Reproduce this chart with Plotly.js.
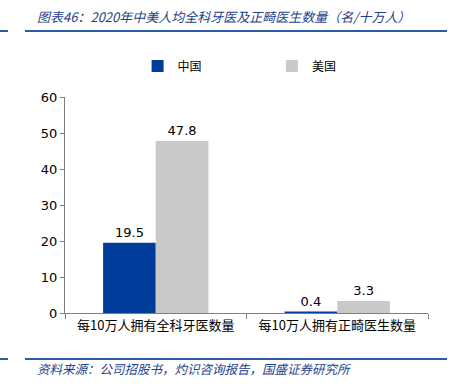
<!DOCTYPE html>
<html><head><meta charset="utf-8">
<script src="https://cdn.plot.ly/plotly-3.0.1.min.js"></script>
<style>html,body{margin:0;padding:0;background:#fff;}#chart{width:455px;height:391px;}</style>
</head><body><div id="chart"></div>
<script>
const categories = ["每10万人拥有全科牙医数量", "每10万人拥有正畸医生数量"];
const seriesNames = ["中国", "美国"];
const chinaValues = [19.5, 0.4];
const usValues = [47.8, 3.3];
const yTicks = [0, 10, 20, 30, 40, 50, 60];

const cjk = '"Noto Sans CJK SC", "Noto Sans", sans-serif';
const traces = [
  {type:'bar', name:seriesNames[0], legend:'legend', x:categories, y:chinaValues, marker:{color:'#003C9A'},
   text:chinaValues.map(v=>v.toFixed(1)), textposition:'outside', cliponaxis:false,
   textfont:{family:'Tahoma, "DejaVu Sans", sans-serif', size:13, color:'#000'}},
  {type:'bar', name:seriesNames[1], legend:'legend2', x:categories, y:usValues, marker:{color:'#C9C9C9'},
   text:usValues.map(v=>v.toFixed(1)), textposition:'outside', cliponaxis:false,
   textfont:{family:'Tahoma, "DejaVu Sans", sans-serif', size:13, color:'#000'}}
];
const legFont = {family:cjk, size:12, color:'#000'};
const layout = {
  width:455, height:391,
  margin:{l:65, r:27, t:97, b:78},
  paper_bgcolor:'#fff', plot_bgcolor:'#fff',
  barmode:'group', bargap:0.42, bargroupgap:0,
  showlegend:true,
  legend:{orientation:'h', x:0.2, xanchor:'left', y:1.1435, yanchor:'middle', font:legFont, bgcolor:'rgba(0,0,0,0)'},
  legend2:{orientation:'h', x:0.57, xanchor:'left', y:1.1435, yanchor:'middle', font:legFont, bgcolor:'rgba(0,0,0,0)'},
  xaxis:{type:'category', showline:true, linecolor:'#7f7f7f', linewidth:1,
    ticks:'outside', tickson:'boundaries', ticklen:5, tickcolor:'#7f7f7f',
    tickfont:{family:cjk, size:13, color:'#000'}, showgrid:false, zeroline:false},
  yaxis:{range:[0,60], tickvals:yTicks, showline:true, linecolor:'#7f7f7f', linewidth:1,
    ticks:'outside', ticklen:4, tickcolor:'#7f7f7f', showgrid:false, zeroline:false,
    tickfont:{family:'Tahoma, "DejaVu Sans", sans-serif', size:13, color:'#000'}},
  shapes:[
    {type:'line', xref:'paper', yref:'paper', x0:-65/363, x1:-57/363, y0:(391-78-31)/216, y1:(391-78-31)/216, line:{color:'#2a5aa8', width:2}},
    {type:'line', xref:'paper', yref:'paper', x0:-40/363, x1:382/363, y0:(391-78-31)/216, y1:(391-78-31)/216, line:{color:'#2a5aa8', width:2}},
    {type:'line', xref:'paper', yref:'paper', x0:-65/363, x1:-57/363, y0:(391-78-359)/216, y1:(391-78-359)/216, line:{color:'#2a5aa8', width:2}},
    {type:'line', xref:'paper', yref:'paper', x0:-40/363, x1:382/363, y0:(391-78-359)/216, y1:(391-78-359)/216, line:{color:'#2a5aa8', width:2}}
  ],
  annotations:[
    {text:'图表46：2020年中美人均全科牙医及正畸医生数量（名/十万人）', xref:'paper', yref:'paper',
     x:-30/363, y:(391-78-16)/216, xanchor:'left', yanchor:'middle', showarrow:false,
     font:{family:cjk, size:13, color:'#1f3f8a', style:'italic'}},
    {text:'资料来源：公司招股书，灼识咨询报告，国盛证券研究所', xref:'paper', yref:'paper',
     x:-30/363, y:(391-78-368)/216, xanchor:'left', yanchor:'middle', showarrow:false,
     font:{family:cjk, size:12.5, color:'#1f3f8a', style:'italic'}}
  ]
};
Plotly.newPlot('chart', traces, layout, {displayModeBar:false, staticPlot:true});
</script></body></html>
